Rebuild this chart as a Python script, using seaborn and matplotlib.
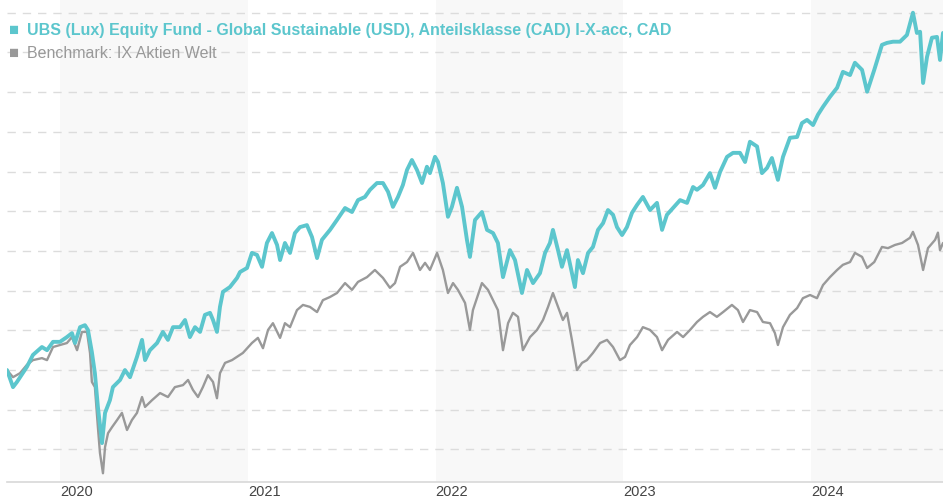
import numpy as np
import pandas as pd
import matplotlib
matplotlib.use("Agg")
import matplotlib.pyplot as plt
import seaborn as sns

# ---- data (decimal years, indexed performance) ----
fund_t = [2019.718, 2019.750, 2019.771, 2019.824, 2019.856, 2019.904, 2019.931, 2019.963, 2020.000, 2020.037,
          2020.064, 2020.080, 2020.107, 2020.133, 2020.149, 2020.170, 2020.186, 2020.202, 2020.224, 2020.240,
          2020.266, 2020.282, 2020.320, 2020.346, 2020.373, 2020.410, 2020.437, 2020.453, 2020.479, 2020.517,
          2020.548, 2020.575, 2020.602, 2020.639, 2020.666, 2020.692, 2020.719, 2020.746, 2020.772, 2020.799,
          2020.815, 2020.836, 2020.852, 2020.868, 2020.905, 2020.943, 2020.959, 2020.996, 2021.022, 2021.049,
          2021.076, 2021.102, 2021.129, 2021.156, 2021.172, 2021.198, 2021.225, 2021.251, 2021.278, 2021.315,
          2021.342, 2021.369, 2021.395, 2021.438, 2021.475, 2021.518, 2021.555, 2021.587, 2021.624, 2021.651,
          2021.688, 2021.720, 2021.747, 2021.773, 2021.800, 2021.826, 2021.848, 2021.874, 2021.901, 2021.928,
          2021.954, 2021.970, 2021.997, 2022.013, 2022.039, 2022.066, 2022.087, 2022.114, 2022.141, 2022.167,
          2022.183, 2022.210, 2022.247, 2022.274, 2022.306, 2022.332, 2022.359, 2022.396, 2022.423, 2022.460,
          2022.487, 2022.519, 2022.556, 2022.583, 2022.609, 2022.625, 2022.652, 2022.673, 2022.700, 2022.726,
          2022.742, 2022.758, 2022.785, 2022.812, 2022.838, 2022.865, 2022.892, 2022.918, 2022.945, 2022.966,
          2022.993, 2023.019, 2023.046, 2023.073, 2023.104, 2023.142, 2023.179, 2023.206, 2023.232, 2023.264,
          2023.302, 2023.339, 2023.371, 2023.392, 2023.424, 2023.461, 2023.488, 2023.515, 2023.552, 2023.584,
          2023.621, 2023.648, 2023.674, 2023.712, 2023.738, 2023.765, 2023.791, 2023.823, 2023.850, 2023.887,
          2023.925, 2023.951, 2023.978, 2024.010, 2024.036, 2024.063, 2024.100, 2024.138, 2024.169, 2024.207,
          2024.233, 2024.271, 2024.298, 2024.336, 2024.377, 2024.404, 2024.436, 2024.473, 2024.510, 2024.542,
          2024.563, 2024.580, 2024.596, 2024.617, 2024.643, 2024.670, 2024.686, 2024.702]
fund_v = [100.0, 95.7, 97.0, 100.8, 103.8, 105.8, 105.0, 107.1, 107.1, 108.3,
          109.3, 106.8, 110.8, 111.3, 110.1, 104.5, 99.2, 90.7, 81.6, 89.2,
          92.4, 95.7, 97.5, 100.0, 98.2, 103.3, 107.6, 102.5, 105.0, 106.8,
          109.6, 107.6, 110.8, 110.8, 112.6, 108.3, 110.8, 109.6, 113.9, 114.4,
          112.6, 109.6, 115.9, 119.7, 120.9, 123.2, 124.7, 125.7, 129.5, 129.0,
          126.0, 132.0, 134.5, 131.5, 127.7, 132.0, 129.5, 134.5, 136.0, 136.5,
          133.5, 128.2, 132.8, 135.3, 137.8, 140.8, 139.8, 142.8, 143.6, 145.4,
          147.1, 147.1, 144.9, 141.1, 143.6, 146.6, 150.4, 152.9, 150.4, 147.1,
          151.2, 149.6, 153.7, 152.4, 147.1, 138.6, 141.1, 145.9, 141.1, 132.8,
          128.5, 137.8, 139.8, 135.3, 134.5, 132.0, 123.4, 130.2, 127.7, 119.4,
          125.2, 121.9, 124.4, 129.5, 132.0, 135.3, 130.2, 126.0, 130.2, 124.4,
          120.9, 127.7, 124.4, 129.5, 131.0, 135.3, 137.0, 140.3, 139.1, 136.0,
          134.0, 136.0, 139.6, 141.6, 143.6, 140.3, 142.1, 135.3, 139.1, 140.8,
          142.8, 142.1, 146.1, 145.4, 146.6, 149.6, 145.9, 149.9, 153.7, 154.7,
          154.7, 152.4, 157.5, 156.3, 149.6, 150.9, 153.4, 147.9, 153.7, 158.5,
          158.7, 162.2, 163.0, 161.7, 164.3, 166.3, 168.8, 171.1, 175.1, 174.3,
          177.4, 175.6, 170.1, 175.6, 181.9, 182.4, 182.7, 182.7, 184.4, 190.0,
          184.9, 185.2, 172.3, 178.9, 183.7, 183.9, 178.1, 184.9]

bench_t = [2019.718, 2019.750, 2019.787, 2019.824, 2019.856, 2019.904, 2019.931, 2019.963, 2020.000, 2020.037,
           2020.064, 2020.091, 2020.117, 2020.144, 2020.160, 2020.170, 2020.186, 2020.202, 2020.213, 2020.229,
           2020.240, 2020.256, 2020.277, 2020.304, 2020.330, 2020.357, 2020.383, 2020.410, 2020.437, 2020.453,
           2020.490, 2020.533, 2020.575, 2020.612, 2020.655, 2020.682, 2020.708, 2020.735, 2020.761, 2020.788,
           2020.815, 2020.836, 2020.852, 2020.879, 2020.916, 2020.974, 2021.022, 2021.054, 2021.081, 2021.108,
           2021.134, 2021.172, 2021.198, 2021.225, 2021.262, 2021.294, 2021.331, 2021.369, 2021.400, 2021.438,
           2021.475, 2021.518, 2021.555, 2021.587, 2021.635, 2021.677, 2021.720, 2021.757, 2021.784, 2021.811,
           2021.848, 2021.880, 2021.917, 2021.944, 2021.970, 2022.008, 2022.039, 2022.066, 2022.093, 2022.119,
           2022.157, 2022.183, 2022.199, 2022.247, 2022.279, 2022.306, 2022.332, 2022.359, 2022.386, 2022.412,
           2022.439, 2022.465, 2022.503, 2022.540, 2022.572, 2022.599, 2022.625, 2022.652, 2022.678, 2022.700,
           2022.726, 2022.753, 2022.780, 2022.806, 2022.838, 2022.876, 2022.913, 2022.945, 2022.982, 2023.009,
           2023.035, 2023.073, 2023.104, 2023.142, 2023.179, 2023.206, 2023.238, 2023.286, 2023.318, 2023.355,
           2023.392, 2023.424, 2023.461, 2023.498, 2023.531, 2023.578, 2023.610, 2023.637, 2023.674, 2023.712,
           2023.743, 2023.781, 2023.807, 2023.823, 2023.850, 2023.887, 2023.925, 2023.956, 2023.994, 2024.031,
           2024.063, 2024.100, 2024.138, 2024.169, 2024.207, 2024.233, 2024.271, 2024.298, 2024.336, 2024.377,
           2024.409, 2024.446, 2024.484, 2024.526, 2024.542, 2024.569, 2024.596, 2024.622, 2024.660, 2024.675,
           2024.686, 2024.702]
bench_v = [100.0, 98.2, 99.2, 101.3, 102.5, 103.0, 102.5, 105.8, 106.3, 106.8,
           108.3, 105.0, 109.6, 109.6, 104.3, 97.0, 95.7, 85.6, 79.1, 74.0,
           80.6, 84.1, 85.6, 87.4, 89.2, 84.9, 87.4, 89.2, 93.2, 90.7,
           92.4, 94.2, 93.2, 95.7, 96.2, 97.5, 95.0, 93.2, 95.7, 98.7,
           97.0, 92.9, 99.2, 101.8, 102.5, 104.3, 106.8, 108.1, 105.5, 110.1,
           111.8, 108.1, 111.8, 110.8, 115.1, 116.4, 115.9, 114.6, 117.6, 118.4,
           119.4, 121.9, 120.2, 122.2, 123.4, 125.2, 123.2, 120.7, 121.9, 126.0,
           127.2, 129.5, 125.2, 127.0, 125.2, 129.5, 125.2, 119.4, 121.9, 120.2,
           116.9, 110.1, 115.1, 121.9, 120.2, 117.6, 115.1, 105.0, 111.8, 114.4,
           113.4, 105.0, 108.3, 110.1, 112.6, 115.9, 119.4, 115.9, 112.6, 114.4,
           107.6, 100.0, 101.8, 102.5, 104.3, 106.8, 107.6, 105.8, 102.5, 103.3,
           106.3, 108.3, 110.8, 110.1, 108.3, 105.0, 107.6, 109.6, 108.3, 110.1,
           112.1, 113.4, 114.6, 113.4, 114.6, 116.4, 115.1, 112.1, 115.1, 114.6,
           112.1, 111.8, 109.3, 106.3, 110.8, 113.9, 115.6, 118.1, 118.9, 118.1,
           121.4, 123.4, 125.2, 126.5, 127.2, 129.5, 128.5, 125.7, 127.2, 131.0,
           130.7, 131.5, 132.0, 133.3, 134.8, 131.5, 125.2, 130.7, 132.8, 134.6,
           130.2, 132.0]

years = [2020, 2021, 2022, 2023, 2024]
year_labels = ["2020", "2021", "2022", "2023", "2024"]
shaded_years = [2020, 2022, 2024]
grid_levels = [80, 90, 100, 110, 120, 130, 140, 150, 160, 170, 180, 190]

fund_name = "UBS (Lux) Equity Fund - Global Sustainable (USD), Anteilsklasse (CAD) I-X-acc, CAD"
bench_name = "Benchmark: IX Aktien Welt"

TEAL = "#5cc6cd"
GREY = "#999999"

sns.set_style("white")
plt.rcParams["font.family"] = ["Liberation Sans", "DejaVu Sans"]

fig = plt.figure(figsize=(9.43, 5.0), dpi=100)
ax = fig.add_axes([7 / 943, 18 / 500, 936 / 943, 482 / 500])

xmin, xmax = fund_t[0], fund_t[-1]
ymin, ymax = 71.8, 193.2

for y0 in shaded_years:
    ax.axvspan(y0, y0 + 1, color="#f8f8f8", zorder=0, lw=0)
for g in grid_levels:
    ax.axhline(g, color="#dcdcdc", lw=1.0, ls=(0, (6, 5)), zorder=1)

df_b = pd.DataFrame({"t": bench_t, "v": bench_v})
df_f = pd.DataFrame({"t": fund_t, "v": fund_v})
sns.lineplot(data=df_b, x="t", y="v", ax=ax, color=GREY, lw=1.7, zorder=3, estimator=None, sort=False)
sns.lineplot(data=df_f, x="t", y="v", ax=ax, color=TEAL, lw=2.8, zorder=4, estimator=None, sort=False)

ax.set_xlim(xmin, xmax)
ax.set_ylim(ymin, ymax)
ax.set_xlabel("")
ax.set_ylabel("")
ax.set_yticks([])
ax.set_xticks(years)
ax.set_xticklabels(year_labels, ha="left", color="#444444", fontsize=10.5)
ax.tick_params(axis="x", length=0, pad=2)
for s in ["top", "right", "left"]:
    ax.spines[s].set_visible(False)
ax.spines["bottom"].set_color("#d8d8d8")
ax.spines["bottom"].set_linewidth(1.2)

# legend
fig.text(9 / 943, 1 - 30 / 500, "\u25A0", color=TEAL, fontsize=12, va="center", ha="left")
fig.text(27 / 943, 1 - 30 / 500, fund_name, color=TEAL, fontsize=11.5, fontweight="bold", va="center", ha="left")
fig.text(9 / 943, 1 - 53 / 500, "\u25A0", color=GREY, fontsize=12, va="center", ha="left")
fig.text(27 / 943, 1 - 53 / 500, bench_name, color=GREY, fontsize=11.5, va="center", ha="left")

fig.savefig("out.png", dpi=100)
